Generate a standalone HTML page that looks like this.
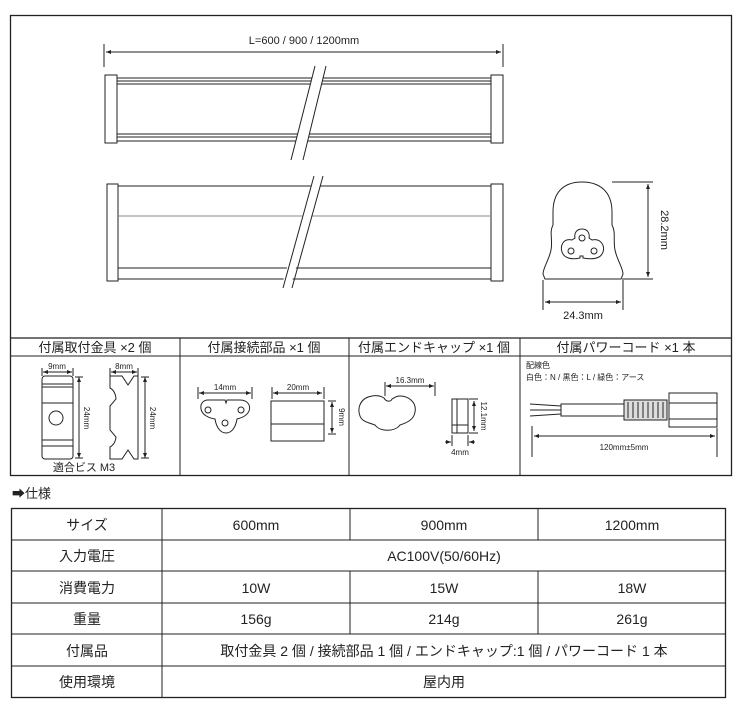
<!DOCTYPE html>
<html><head><meta charset="utf-8"><style>
html,body{margin:0;padding:0;background:#fff;}
body{width:740px;height:720px;position:relative;overflow:hidden;font-family:"Liberation Sans","Noto Sans CJK JP",sans-serif;}
svg{position:absolute;left:0;top:0;}
text{font-family:"Liberation Sans","Noto Sans CJK JP",sans-serif;fill:#222;}
</style></head><body>
<svg width="740" height="720" viewBox="0 0 740 720">
<defs>
<marker id="a" viewBox="0 0 10 10" refX="10" refY="5" markerWidth="5" markerHeight="5" orient="auto-start-reverse"><path d="M0,1 L10,5 L0,9 z" fill="#222"/></marker>
</defs>
<g fill="none" stroke="#222" stroke-width="1">
<!-- outer top box -->
<rect x="10.5" y="15.5" width="721" height="460" stroke-width="1.3"/>
<line x1="10" y1="338" x2="732" y2="338" stroke-width="1.3"/>
<line x1="10" y1="356" x2="732" y2="356"/>
<line x1="180" y1="338" x2="180" y2="476"/>
<line x1="349" y1="338" x2="349" y2="476"/>
<line x1="520" y1="338" x2="520" y2="476"/>

<!-- length dimension -->
<line x1="104" y1="44" x2="104" y2="67"/>
<line x1="503" y1="44" x2="503" y2="67"/>
<line x1="106" y1="52" x2="501" y2="52" marker-start="url(#a)" marker-end="url(#a)"/>

<!-- lamp 1 -->
<rect x="105" y="75" width="12" height="68"/>
<rect x="491" y="75" width="12" height="68"/>
<line x1="117" y1="78" x2="491" y2="78"/>
<line x1="117" y1="81" x2="491" y2="81"/>
<line x1="117" y1="84" x2="491" y2="84"/>
<line x1="117" y1="134" x2="491" y2="134"/>
<line x1="117" y1="137" x2="491" y2="137"/>
<line x1="117" y1="141" x2="491" y2="141"/>
<polygon points="315,66 326,66 303,160 291,160" fill="#fff" stroke="none"/>
<line x1="315" y1="66" x2="291" y2="160"/>
<line x1="326" y1="66" x2="303" y2="160"/>

<!-- lamp 2 -->
<rect x="107" y="184" width="11" height="97"/>
<rect x="491" y="184" width="12" height="97"/>
<line x1="118" y1="186" x2="491" y2="186"/>
<line x1="118" y1="216" x2="491" y2="216" stroke="#888"/>
<line x1="118" y1="268" x2="491" y2="268"/>
<line x1="118" y1="279" x2="491" y2="279"/>
<polygon points="314,176 323,176 290,288 281,288" fill="#fff" stroke="none"/>
<line x1="314" y1="176" x2="283" y2="288"/>
<line x1="323" y1="176" x2="292" y2="288"/>

<!-- profile -->
<path d="M553,212 C553,190 566,182 582,182 C598,182 612,190 612,212 L612,225 C616,232 613,240 615,250 C617,260 623,268 623,274 L621,279 L545,279 L543,274 C543,268 549,260 551,250 C553,240 549,232 553,225 Z"/>
<path d="M582,229 C576,229 574,234 575,238 L572,240 C563,238 560,246 562,252 C564,258 571,260 580,258 L580,256 L583,256 L583,258 C594,260 601,258 603,252 C605,246 601,238 592,240 L589,238 C590,234 588,229 582,229 Z"/>
<circle cx="582" cy="238" r="3"/><circle cx="571" cy="251" r="3"/><circle cx="594" cy="251" r="3"/>
<line x1="612" y1="182" x2="653" y2="182"/>
<line x1="622" y1="279" x2="653" y2="279"/>
<line x1="648" y1="184" x2="648" y2="277" marker-start="url(#a)" marker-end="url(#a)"/>
<line x1="543" y1="280" x2="543" y2="310"/>
<line x1="623" y1="280" x2="623" y2="310"/>
<line x1="545" y1="302" x2="621" y2="302" marker-start="url(#a)" marker-end="url(#a)"/>

<!-- bracket 1 -->
<rect x="42" y="376" width="31" height="83" rx="3"/>
<line x1="42" y1="384" x2="73" y2="384"/><line x1="42" y1="387" x2="73" y2="387"/>
<line x1="42" y1="403" x2="73" y2="403"/><line x1="42" y1="440" x2="73" y2="440"/><line x1="42" y1="446" x2="73" y2="446"/>
<circle cx="56" cy="418" r="7"/>
<line x1="43" y1="372" x2="72" y2="372" marker-start="url(#a)" marker-end="url(#a)"/>
<line x1="42" y1="368" x2="42" y2="376"/><line x1="73" y1="368" x2="73" y2="376"/>
<line x1="79" y1="377" x2="79" y2="458" marker-start="url(#a)" marker-end="url(#a)"/>
<line x1="75" y1="377" x2="83" y2="377"/><line x1="75" y1="458" x2="83" y2="458"/>
<!-- bracket 2 -->
<path d="M110,376 L122,376 L128,385 L134,376 L138,376 L138,459 L134,459 L128,450 L122,459 L110,459 L110,447 C114,445 116,440 116,437 L110,430 L110,406 L116,399 C116,395 114,390 110,388 Z"/>
<line x1="111" y1="372" x2="137" y2="372" marker-start="url(#a)" marker-end="url(#a)"/>
<line x1="110" y1="368" x2="110" y2="376"/><line x1="138" y1="368" x2="138" y2="376"/>
<line x1="145" y1="377" x2="145" y2="458" marker-start="url(#a)" marker-end="url(#a)"/>
<line x1="141" y1="377" x2="149" y2="377"/><line x1="141" y1="458" x2="149" y2="458"/>

<!-- connector -->
<path d="M208,400 L225,400 L226,403 L227,400 L240,400 C248,400 251,406 249,411 C247,416 241,418 237,419 C236,425 233,433 226,433 C219,433 216,425 215,419 C209,418 202,415 201,409 C200,404 203,400 208,400 Z"/>
<circle cx="208" cy="410" r="3"/><circle cx="241" cy="410" r="3"/><circle cx="225" cy="423" r="3"/>
<line x1="199" y1="393" x2="251" y2="393" marker-start="url(#a)" marker-end="url(#a)"/>
<line x1="198" y1="387" x2="198" y2="399"/><line x1="252" y1="387" x2="252" y2="399"/>
<rect x="271" y="401" width="53" height="40"/>
<line x1="271" y1="424" x2="324" y2="424"/>
<line x1="273" y1="393" x2="322" y2="393" marker-start="url(#a)" marker-end="url(#a)"/>
<line x1="272" y1="387" x2="272" y2="399"/><line x1="324" y1="387" x2="324" y2="399"/>
<line x1="332" y1="402" x2="332" y2="433" marker-start="url(#a)" marker-end="url(#a)"/>
<line x1="328" y1="401" x2="336" y2="401"/><line x1="328" y1="434" x2="336" y2="434"/>

<!-- end cap -->
<path d="M372,396 C360,398 357,408 360,416 C362,422 370,423 375,425 C380,432 395,432 400,425 C406,423 414,420 415,412 C417,402 408,396 400,396 C396,396 394,398 392,399 C391,402 386,402 384,398 C381,396 377,395 372,396 Z"/>
<line x1="386" y1="386" x2="434" y2="386" marker-start="url(#a)" marker-end="url(#a)"/>
<line x1="385" y1="382" x2="385" y2="396"/><line x1="435" y1="382" x2="435" y2="396"/>
<rect x="452" y="399" width="16" height="34"/>
<line x1="457" y1="399" x2="457" y2="433"/>
<line x1="452" y1="425" x2="468" y2="425"/>
<line x1="469" y1="399" x2="478" y2="399"/><line x1="469" y1="433" x2="478" y2="433"/>
<line x1="474" y1="401" x2="474" y2="431" marker-start="url(#a)" marker-end="url(#a)"/>
<line x1="452" y1="435" x2="452" y2="446"/><line x1="468" y1="435" x2="468" y2="446"/>
<line x1="445" y1="442" x2="451" y2="442" marker-end="url(#a)"/>
<line x1="475" y1="442" x2="469" y2="442" marker-end="url(#a)"/>

<!-- power cord -->
<line x1="530" y1="404" x2="561" y2="406"/><line x1="530" y1="410" x2="561" y2="410"/><line x1="530" y1="416" x2="561" y2="414"/>
<rect x="561" y="404" width="63" height="12"/>
<rect x="624" y="400" width="43" height="20" fill="#ddd"/>
<path d="M628,402 v16 M633,402 v16 M638,402 v16 M643,402 v16 M648,402 v16 M653,402 v16 M658,402 v16 M663,402 v16" stroke="#444" stroke-width="1.2"/>
<rect x="669" y="393" width="48" height="34"/>
<line x1="669" y1="403" x2="717" y2="403"/><line x1="669" y1="419" x2="717" y2="419"/>
<line x1="532" y1="426" x2="532" y2="457"/><line x1="717" y1="428" x2="717" y2="457"/>
<line x1="534" y1="436" x2="715" y2="436" marker-start="url(#a)" marker-end="url(#a)"/>

<!-- spec table -->
<rect x="11.5" y="508.5" width="714" height="189" stroke-width="1.3"/>
<line x1="11" y1="540" x2="726" y2="540"/>
<line x1="11" y1="571" x2="726" y2="571"/>
<line x1="11" y1="603" x2="726" y2="603"/>
<line x1="11" y1="634" x2="726" y2="634"/>
<line x1="11" y1="666" x2="726" y2="666"/>
<line x1="162" y1="508" x2="162" y2="698"/>
<line x1="350" y1="508" x2="350" y2="540"/><line x1="538" y1="508" x2="538" y2="540"/>
<line x1="350" y1="571" x2="350" y2="634"/><line x1="538" y1="571" x2="538" y2="634"/>
</g>

<text x="304" y="44" font-size="11" text-anchor="middle">L=600 / 900 / 1200mm</text>
<text x="661" y="230" font-size="11" text-anchor="middle" transform="rotate(90 661 230)">28.2mm</text>
<text x="583" y="319" font-size="11" text-anchor="middle">24.3mm</text>

<g font-size="13" text-anchor="middle">
<text x="95" y="352">付属取付金具 ×2 個</text>
<text x="264" y="352">付属接続部品 ×1 個</text>
<text x="434" y="352">付属エンドキャップ ×1 個</text>
<text x="626" y="352">付属パワーコード ×1 本</text>
</g>
<g font-size="8" text-anchor="middle">
<text x="57" y="369">9mm</text>
<text x="124" y="369">8mm</text>
<text x="84" y="418" transform="rotate(90 84 418)">24mm</text>
<text x="150" y="418" transform="rotate(90 150 418)">24mm</text>
<text x="225" y="390">14mm</text>
<text x="298" y="390">20mm</text>
<text x="339" y="417" transform="rotate(90 339 417)">9mm</text>
<text x="410" y="383">16.3mm</text>
<text x="481" y="416" transform="rotate(90 481 416)">12.1mm</text>
<text x="460" y="455">4mm</text>
<text x="624" y="450">120mm±5mm</text>
<text x="526" y="368" text-anchor="start">配線色</text>
<text x="526" y="380" text-anchor="start">白色：N / 黒色：L / 緑色：アース</text>
</g>
<text x="84" y="471" font-size="11" text-anchor="middle">適合ビス M3</text>

<text x="12" y="498" font-size="13">➡仕様</text>
<g font-size="14" text-anchor="middle">
<text x="87" y="530">サイズ</text><text x="256" y="530">600mm</text><text x="444" y="530">900mm</text><text x="632" y="530">1200mm</text>
<text x="87" y="561">入力電圧</text><text x="444" y="561">AC100V(50/60Hz)</text>
<text x="87" y="593">消費電力</text><text x="256" y="593">10W</text><text x="444" y="593">15W</text><text x="632" y="593">18W</text>
<text x="87" y="624">重量</text><text x="256" y="624">156g</text><text x="444" y="624">214g</text><text x="632" y="624">261g</text>
<text x="87" y="656">付属品</text><text x="444" y="656">取付金具 2 個 / 接続部品 1 個 / エンドキャップ:1 個 / パワーコード 1 本</text>
<text x="87" y="687">使用環境</text><text x="444" y="687">屋内用</text>
</g>
</svg>
</body></html>
